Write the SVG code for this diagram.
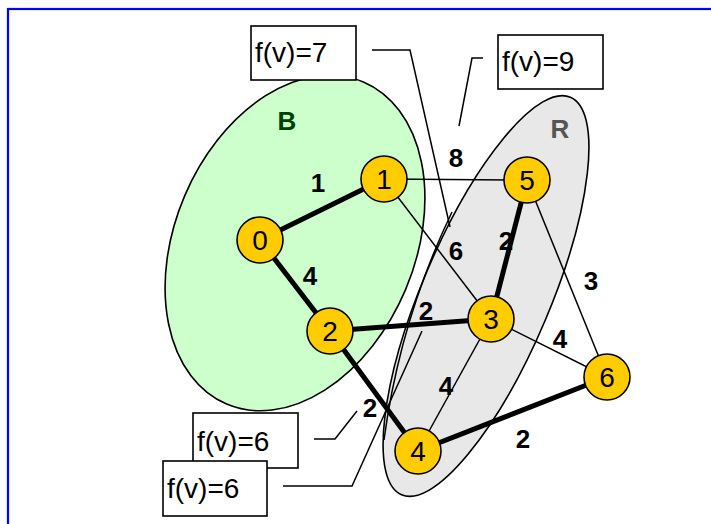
<svg xmlns="http://www.w3.org/2000/svg" width="711" height="524" viewBox="0 0 711 524">
<style>
.node circle{fill:#FFCC00;stroke:#000;stroke-width:1.6}
.node text{font-family:"Liberation Sans",Arial,sans-serif;font-size:28px;text-anchor:middle;fill:#000}
.thin{stroke:#000;stroke-width:1.5;fill:none}
.thick{stroke:#000;stroke-width:5;fill:none}
.lbl{font-family:"Liberation Sans",Arial,sans-serif;font-size:26px;font-weight:bold;text-anchor:middle;fill:#000}
.box rect{fill:#fff;stroke:#000;stroke-width:1.6}
.box text{font-family:"Liberation Sans",Arial,sans-serif;font-size:28px;fill:#000}
.call{stroke:#000;stroke-width:1.5;fill:none}
</style>
<rect x="0" y="0" width="711" height="524" fill="#fff"/>
<rect x="8" y="9" width="720" height="540" fill="none" stroke="#0000ff" stroke-width="2.2"/>
<g id="setB">
<ellipse cx="295" cy="243" rx="120" ry="175" transform="rotate(23 295 243)" fill="#CCFFCC" stroke="#000" stroke-width="1.6"/>
<text x="287" y="130" font-family="Liberation Sans,Arial,sans-serif" font-size="26" font-weight="bold" fill="#004000" text-anchor="middle">B</text>
</g>
<g id="setR">
<ellipse cx="486" cy="296" rx="64" ry="216" transform="rotate(23 486 296)" fill="#E8E8E8" stroke="#000" stroke-width="1.6"/>
<path d="M452 212 Q400 320 384 440" class="thin"/>
<text x="560" y="138" font-family="Liberation Sans,Arial,sans-serif" font-size="26" font-weight="bold" fill="#555" text-anchor="middle">R</text>
</g>
<g id="connectors">
<line class="thick" x1="260" y1="240" x2="384" y2="179"/>
<line class="thick" x1="260" y1="240" x2="330" y2="331"/>
<line class="thin" x1="384" y1="179" x2="527" y2="180"/>
<line class="thin" x1="384" y1="179" x2="491" y2="319"/>
<line class="thick" x1="527" y1="180" x2="491" y2="319"/>
<line class="thin" x1="527" y1="180" x2="607" y2="377"/>
<line class="thick" x1="330" y1="331" x2="491" y2="319"/>
<line class="thin" x1="491" y1="319" x2="607" y2="377"/>
<line class="thin" x1="491" y1="319" x2="418" y2="451"/>
<line class="thick" x1="330" y1="331" x2="418" y2="451"/>
<line class="thick" x1="418" y1="451" x2="607" y2="377"/>
<text class="lbl" x="318" y="192">1</text>
<text class="lbl" x="310" y="285">4</text>
<text class="lbl" x="456" y="167">8</text>
<text class="lbl" x="456" y="260">6</text>
<text class="lbl" x="506" y="250">2</text>
<text class="lbl" x="591" y="290">3</text>
<text class="lbl" x="426" y="320">2</text>
<text class="lbl" x="560" y="348">4</text>
<text class="lbl" x="446" y="395">4</text>
<text class="lbl" x="370" y="417">2</text>
<text class="lbl" x="523" y="448">2</text>
</g>
<g id="n0" class="node"><circle cx="260" cy="240" r="23"/><text x="260" y="250">0</text></g>
<g id="n1" class="node"><circle cx="384" cy="179" r="23"/><text x="384" y="189">1</text></g>
<g id="n2" class="node"><circle cx="330" cy="331" r="23"/><text x="330" y="341">2</text></g>
<g id="n5" class="node"><circle cx="527" cy="180" r="23"/><text x="527" y="190">5</text></g>
<g id="n3" class="node"><circle cx="491" cy="319" r="23"/><text x="491" y="329">3</text></g>
<g id="n6" class="node"><circle cx="607" cy="377" r="23"/><text x="607" y="387">6</text></g>
<g id="n4" class="node"><circle cx="418" cy="451" r="23"/><text x="418" y="461">4</text></g>
<g id="callouts">
<path class="call" d="M372 50 L410 50 L450 227"/>
<path class="call" d="M483 58 L472 58 L459 126"/>
<path class="call" d="M314 439 L335 439 L357 411"/>
<path class="call" d="M283 486 L352 486 L422 331"/>
</g>
<g id="box7" class="box"><rect x="251" y="26" width="105" height="54"/><text x="255" y="62">f(v)=7</text></g>
<g id="box9" class="box"><rect x="498" y="35" width="105" height="54"/><text x="502" y="71">f(v)=9</text></g>
<g id="box6a" class="box"><rect x="193" y="413" width="105" height="55"/><text x="197" y="451">f(v)=6</text></g>
<g id="box6b" class="box"><rect x="163" y="461" width="104" height="55"/><text x="167" y="498">f(v)=6</text></g>
</svg>
